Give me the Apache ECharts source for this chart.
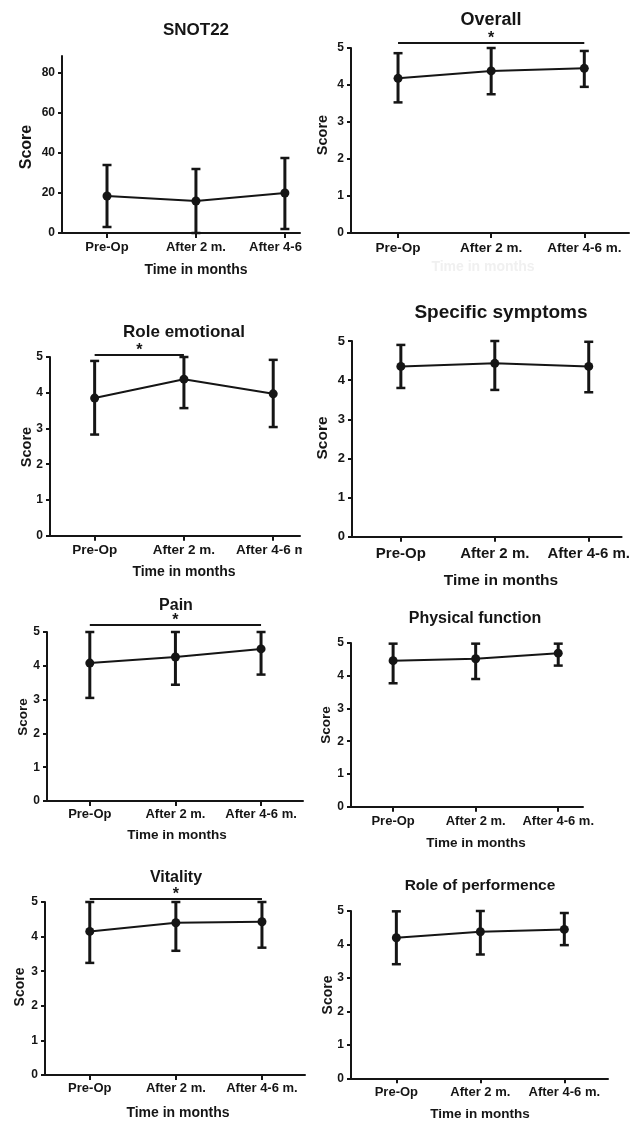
<!DOCTYPE html>
<html>
<head>
<meta charset="utf-8">
<script src="https://cdn.jsdelivr.net/npm/echarts@6/dist/echarts.min.js"></script>
<style>
  html, body { margin: 0; padding: 0; background: #fff; }
  #chart { width: 633px; height: 1121px; }
</style>
</head>
<body>
<div id="chart"></div>
<script>
// time points shared by all panels
const categories = ['Pre-Op', 'After 2 m.', 'After 4-6 m.'];
const snotTicks = [0, 20, 40, 60, 80];
const scoreTicks = [0, 1, 2, 3, 4, 5];

// mean and error bar ends
const snotMean = [18.5, 16, 20];
const snotLow = [3, 0, 2];
const snotHigh = [34, 32, 37.5];

const overallMean = [4.18, 4.38, 4.45];
const overallLow = [3.53, 3.75, 3.95];
const overallHigh = [4.86, 5.0, 4.92];

const roleEmoMean = [3.85, 4.38, 3.97];
const roleEmoLow = [2.83, 3.57, 3.04];
const roleEmoHigh = [4.89, 5.0, 4.92];

const specificMean = [4.35, 4.43, 4.35];
const specificLow = [3.8, 3.75, 3.69];
const specificHigh = [4.9, 5.0, 4.98];

const painMean = [4.08, 4.26, 4.5];
const painLow = [3.05, 3.44, 3.74];
const painHigh = [5.0, 5.0, 5.0];

const physicalMean = [4.46, 4.52, 4.69];
const physicalLow = [3.77, 3.9, 4.31];
const physicalHigh = [4.98, 4.98, 4.98];

const vitalityMean = [4.15, 4.4, 4.43];
const vitalityLow = [3.24, 3.59, 3.68];
const vitalityHigh = [5.0, 5.0, 5.0];

const rolePerfMean = [4.2, 4.38, 4.45];
const rolePerfLow = [3.41, 3.7, 3.98];
const rolePerfHigh = [4.99, 5.0, 4.94];

// significance brackets (from index, to index)
const overallSig = [0, 2];
const roleEmoSig = [0, 1];
const painSig = [0, 2];
const vitalitySig = [0, 2];

const ink = '#151515';
const font = '"Liberation Sans", Arial, sans-serif';

const panels = [
  { title: 'SNOT22', mean: snotMean, low: snotLow, high: snotHigh, ticks: snotTicks, sig: null,
    box: [62, 56, 238, 177], xr: [-0.506, 2.17], yMax: 88.5,
    titlePos: [196, 30, 17], namePos: [196, 270, 14], scorePos: [27, 147, 16], cat: 13, tick: 12, gap: 8 },
  { title: 'Overall', mean: overallMean, low: overallLow, high: overallHigh, ticks: scoreTicks, sig: overallSig,
    box: [351, 48, 278, 185], xr: [-0.505, 2.48], yMax: 5, sigGap: 5,
    titlePos: [491, 20, 18], namePos: [483, 267, 14], nameColor: '#f0f0f0', scorePos: [323, 135, 14.5], cat: 13.5, tick: 12, gap: 8 },
  { title: 'Role emotional', mean: roleEmoMean, low: roleEmoLow, high: roleEmoHigh, ticks: scoreTicks, sig: roleEmoSig,
    box: [50, 357, 250, 178.7], xr: [-0.5, 2.3], yMax: 5, sigGap: 2,
    titlePos: [184, 332, 17], namePos: [184, 572, 14], scorePos: [27, 447, 14.5], cat: 13.5, tick: 12, gap: 8 },
  { title: 'Specific symptoms', mean: specificMean, low: specificLow, high: specificHigh, ticks: scoreTicks, sig: null,
    box: [352, 341, 281, 195.7], xr: [-0.52, 2.35], yMax: 5,
    titlePos: [501, 312.5, 19], namePos: [501, 581, 15.5], scorePos: [323, 438, 15.5], cat: 15, tick: 13, gap: 10 },
  { title: 'Pain', mean: painMean, low: painLow, high: painHigh, ticks: scoreTicks, sig: painSig,
    box: [47, 632, 256, 169], xr: [-0.5, 2.49], yMax: 5, sigGap: 7,
    titlePos: [176, 606, 16], namePos: [177, 835, 13.5], scorePos: [23, 717, 13.5], cat: 13, tick: 12, gap: 7 },
  { title: 'Physical function', mean: physicalMean, low: physicalLow, high: physicalHigh, ticks: scoreTicks, sig: null,
    box: [351, 643, 232, 163.7], xr: [-0.51, 2.3], yMax: 5,
    titlePos: [475, 619, 16], namePos: [476, 843, 13.5], scorePos: [326, 725, 13.5], cat: 13, tick: 12, gap: 8 },
  { title: 'Vitality', mean: vitalityMean, low: vitalityLow, high: vitalityHigh, ticks: scoreTicks, sig: vitalitySig,
    box: [45, 902, 260, 173], xr: [-0.52, 2.5], yMax: 5, sigGap: 3,
    titlePos: [176, 878, 16], namePos: [178, 1113, 14], scorePos: [20, 987, 14], cat: 13, tick: 12, gap: 7 },
  { title: 'Role of performence', mean: rolePerfMean, low: rolePerfLow, high: rolePerfHigh, ticks: scoreTicks, sig: null,
    box: [351, 911, 257, 167.3], xr: [-0.54, 2.52], yMax: 5,
    titlePos: [480, 886, 15.5], namePos: [480, 1114, 13.5], scorePos: [328, 995, 14], cat: 13, tick: 12, gap: 8 }
];

function label(text, x, y, size, opts) {
  opts = opts || {};
  return {
    type: 'text', x: x, y: y, rotation: opts.rotation || 0, z: 50,
    style: {
      text: text, x: 0, y: 0, fill: opts.color || ink,
      font: 'bold ' + size + 'px ' + font,
      align: 'center', verticalAlign: 'middle',
      textAlign: 'center', textVerticalAlign: 'middle'
    }
  };
}

const grids = [], xAxes = [], yAxes = [], series = [], graphics = [];

panels.forEach((p, k) => {
  grids.push({ left: p.box[0], top: p.box[1], width: p.box[2], height: p.box[3] });

  xAxes.push({
    type: 'value', gridIndex: k, min: p.xr[0], max: p.xr[1],
    splitLine: { show: false },
    axisLine: { show: true, onZero: false, lineStyle: { color: ink, width: 2 } },
    axisTick: { show: true, customValues: [0, 1, 2], length: 5, lineStyle: { color: ink, width: 2 } },
    axisLabel: {
      customValues: [0, 1, 2], formatter: v => categories[v], margin: p.gap,
      color: ink, fontWeight: 'bold', fontSize: p.cat, fontFamily: font
    }
  });

  yAxes.push({
    type: 'value', gridIndex: k, min: 0, max: p.yMax,
    splitLine: { show: false },
    axisLine: { show: true, onZero: false, lineStyle: { color: ink, width: 2 } },
    axisTick: { show: true, customValues: p.ticks, length: 4, lineStyle: { color: ink, width: 2 } },
    axisLabel: {
      customValues: p.ticks, margin: 7,
      color: ink, fontWeight: 'bold', fontSize: p.tick, fontFamily: font
    }
  });

  // error bars
  series.push({
    type: 'custom', xAxisIndex: k, yAxisIndex: k, clip: false, z: 3,
    data: p.mean.map((m, i) => [i, p.low[i], p.high[i]]),
    encode: { x: 0, y: [1, 2] },
    renderItem: (params, api) => {
      const x = api.value(0);
      const lo = api.coord([x, api.value(1)]);
      const hi = api.coord([x, api.value(2)]);
      const w = 4.5;
      return {
        type: 'group',
        children: [
          { type: 'line', shape: { x1: lo[0], y1: lo[1], x2: hi[0], y2: hi[1] }, style: { stroke: ink, lineWidth: 3 } },
          { type: 'line', shape: { x1: lo[0] - w, y1: lo[1], x2: lo[0] + w, y2: lo[1] }, style: { stroke: ink, lineWidth: 2.5 } },
          { type: 'line', shape: { x1: hi[0] - w, y1: hi[1], x2: hi[0] + w, y2: hi[1] }, style: { stroke: ink, lineWidth: 2.5 } }
        ]
      };
    }
  });

  // means
  series.push({
    type: 'line', xAxisIndex: k, yAxisIndex: k, z: 4,
    data: p.mean.map((m, i) => [i, m]),
    symbol: 'circle', symbolSize: 9,
    itemStyle: { color: ink },
    lineStyle: { color: ink, width: 2 }
  });

  // significance bracket with star
  if (p.sig) {
    series.push({
      type: 'custom', xAxisIndex: k, yAxisIndex: k, clip: false, z: 5,
      data: [p.sig],
      encode: { x: [0, 1] },
      renderItem: (params, api) => {
        const a = api.coord([api.value(0), p.yMax]);
        const b = api.coord([api.value(1), p.yMax]);
        const y = a[1] - p.sigGap;
        return {
          type: 'group',
          children: [
            { type: 'line', shape: { x1: a[0], y1: y, x2: b[0], y2: y }, style: { stroke: ink, lineWidth: 2 } },
            { type: 'text', x: (a[0] + b[0]) / 2, y: y - 4.5,
              style: { text: '*', fill: ink, font: 'bold 16px ' + font, align: 'center', verticalAlign: 'middle' } }
          ]
        };
      }
    });
  }

  graphics.push(label(p.title, p.titlePos[0], p.titlePos[1], p.titlePos[2]));
  graphics.push(label('Time in months', p.namePos[0], p.namePos[1], p.namePos[2], { color: p.nameColor }));
  graphics.push(label('Score', p.scorePos[0], p.scorePos[1], p.scorePos[2], { rotation: Math.PI / 2 }));
});

// the left column is cropped just past its axes (label rows only)
graphics.push({ type: 'rect', z: 60, shape: { x: 302, y: 236, width: 20, height: 26 }, style: { fill: '#fff' } });
graphics.push({ type: 'rect', z: 60, shape: { x: 302, y: 538, width: 13, height: 24 }, style: { fill: '#fff' } });

const chart = echarts.init(document.getElementById('chart'));
chart.setOption({
  animation: false,
  backgroundColor: '#fff',
  grid: grids,
  xAxis: xAxes,
  yAxis: yAxes,
  series: series,
  graphic: graphics
});
</script>
</body>
</html>
